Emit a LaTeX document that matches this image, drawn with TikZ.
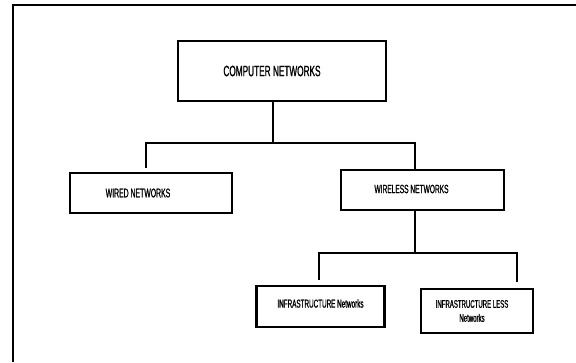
\documentclass[tikz,border=0pt]{standalone}
\usepackage{fontspec}
\setmainfont{Liberation Sans}[FakeStretch=0.55,FakeBold=1]
\tikzset{
  netbox/.style={draw, line width=2.4pt, inner sep=0pt},
  netlabel/.style={text=black, inner sep=0pt, align=center},
  link/.style={line width=2pt}
}
\begin{document}
\begin{tikzpicture}[x=1pt,y=-1pt]
\useasboundingbox (0,0) rectangle (576,362);
% outer frame
\draw[line width=1.6pt] (13,362) -- (13,5) -- (576,5);

\node[netbox, minimum width=208, minimum height=60,
  label={[netlabel, font=\fontsize{15}{15}\selectfont, xshift=-10]center:COMPUTER NETWORKS}] (cn) at (282,71) {};
\node[netbox, minimum width=162, minimum height=40,
  label={[netlabel, font=\fontsize{12.5}{12.5}\selectfont, xshift=-13]center:WIRED NETWORKS}] (wired) at (151,193) {};
\node[netbox, minimum width=163, minimum height=40,
  label={[netlabel, font=\fontsize{12}{12}\selectfont, xshift=-11, yshift=1]center:WIRELESS NETWORKS}] (wireless) at (422.5,190) {};
\node[netbox, minimum width=128, minimum height=41.5,
  label={[netlabel, font=\fontsize{11.5}{11.5}\selectfont, yshift=3]center:INFRASTRUCTURE Networks}] (infra) at (320.5,306.5) {};
\node[netbox, minimum width=112, minimum height=43.5,
  label={[netlabel, font=\fontsize{11}{14}\selectfont, xshift=-5]center:INFRASTRUCTURE LESS\\Networks}] (infraless) at (477,311) {};

% junctions
\coordinate (top-j) at (273,143);
\coordinate (wired-in) at (146,168);
\coordinate (mid-j) at (415,253);
\coordinate (infra-in) at (319,280);
\coordinate (infraless-in) at (517,282);

\draw[link] (cn.south -| top-j) -- (top-j);
\draw[link] (wired-in) |- (top-j) -| (wireless.north -| mid-j);
\draw[link] (wireless.south -| mid-j) -- (mid-j);
\draw[link] (infra-in) |- (mid-j) -| (infraless-in);
\end{tikzpicture}
\end{document}
